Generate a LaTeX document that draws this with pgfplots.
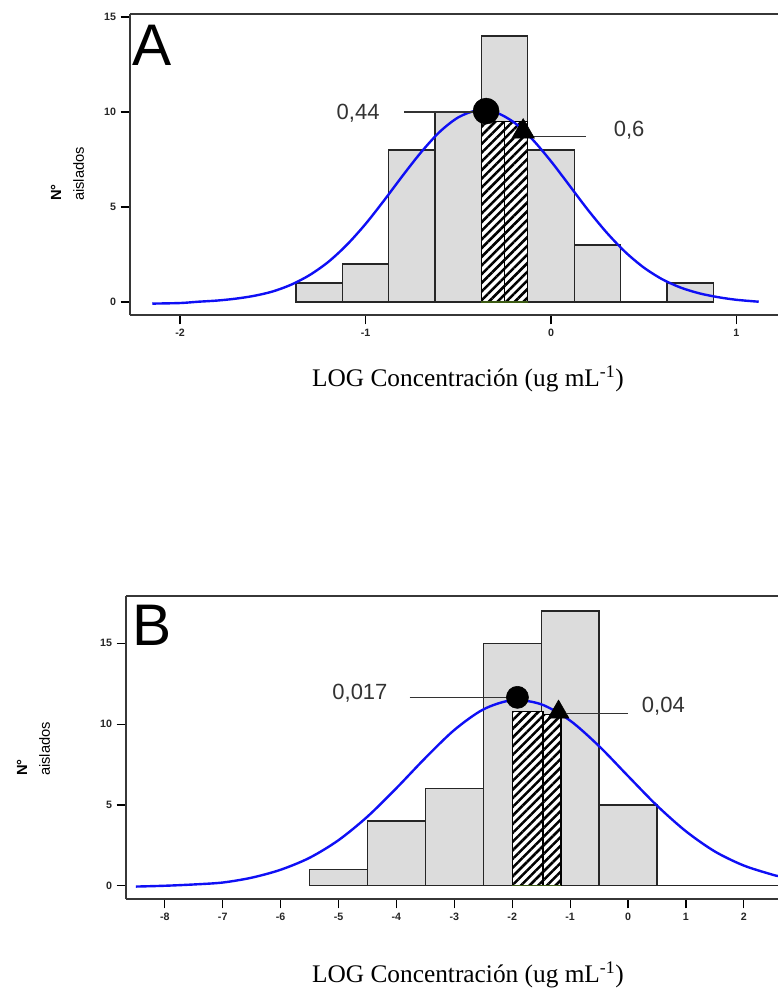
\documentclass[border=0pt]{standalone}
\usepackage{fontspec}
\setmainfont{Liberation Serif}
\setsansfont{Liberation Sans}
\usepackage{pgfplots}
\pgfplotsset{compat=1.18}
\usetikzlibrary{patterns.meta}

\definecolor{barfill}{RGB}{220,220,220}
\definecolor{curveblue}{RGB}{15,15,245}
\definecolor{axisgray}{RGB}{55,55,55}
\definecolor{basegreen}{RGB}{60,90,20}

\pgfplotsset{
  histo/.style={
    scale only axis, anchor=north west,
    axis x line*=box, axis y line*=left,
    xtick pos=left, ytick pos=left,
    tick align=outside, major tick length=7pt,
    axis line style={axisgray, line width=1.5pt},
    tick style={black, line width=0.9pt},
    tick label style={font=\sffamily\bfseries\fontsize{8}{8}\selectfont, text=black!85},
    ytick={0,5,10,15}, yticklabels={0,5,10,15},
  },
  bars/.style={ybar interval, fill=barfill, draw=black!85, line width=1pt},
  hatch/.style={ybar interval, fill=white, draw=black, line width=1pt,
    postaction={pattern={Lines[angle=45,distance=4.6pt,line width=1.9pt]}}},
  fitcurve/.style={curveblue, line width=1.8pt, smooth, no marks},
  leader/.style={black!80, line width=1.1pt, no marks},
}
\newcommand{\annot}{\sffamily\fontsize{16.5}{16.5}\selectfont\color{black!80}}

\begin{document}
\begin{tikzpicture}
\useasboundingbox (0,0) rectangle (583.5pt,-742.5pt);

% ---------------- A ----------------
\begin{axis}[histo,
  at={(97.5pt,-10.5pt)}, width=486pt, height=225.75pt,
  xmin=-2.27, xmax=1.224, ymin=-0.68, ymax=15.16,
  xtick={-2,-1,0,1}, xticklabels={-2,-1,0,1},
]
\addplot[bars] coordinates {
  (-1.375,1) (-1.125,2) (-0.875,8) (-0.625,10) (-0.375,14)
  (-0.125,8) (0.125,3) (0.375,0) (0.625,1) (0.875,1)
};
\addplot[hatch] coordinates {(-0.375,9.5) (-0.25,9.5) (-0.125,9.5)};
\addplot[basegreen, line width=1pt, no marks] coordinates {(-0.375,0) (-0.125,0)};
\addplot[fitcurve] coordinates {
  (-2.15,-0.08) (-2.0,-0.05) (-1.9,0.02) (-1.8,0.08) (-1.7,0.18) (-1.6,0.33)
  (-1.5,0.56) (-1.4,0.92) (-1.3,1.43) (-1.2,2.12) (-1.1,3.02) (-1.0,4.11)
  (-0.9,5.35) (-0.8,6.65) (-0.7,7.89) (-0.6,8.96) (-0.5,9.72) (-0.4,10.08)
  (-0.3,9.99) (-0.2,9.46) (-0.1,8.56) (0.0,7.41) (0.1,6.13) (0.2,4.84)
  (0.3,3.66) (0.4,2.64) (0.5,1.82) (0.6,1.20) (0.7,0.76) (0.8,0.46)
  (0.9,0.26) (1.0,0.12) (1.12,0.02)
};
\addplot[leader] coordinates {(-0.79,10.0) (-0.35,10.0)};
\addplot[leader] coordinates {(-0.11,8.7) (0.19,8.7)};
\addplot[only marks, mark=*, mark size=9.75pt, black] coordinates {(-0.35,10.05)};
\addplot[only marks, mark=triangle*, mark size=9.75pt, black] coordinates {(-0.15,8.97)};
\node[font=\annot] at (axis cs:-1.04,9.93) {0,44};
\node[font=\annot] at (axis cs:0.421,9.05) {0,6};
\end{axis}

% ---------------- B ----------------
\begin{axis}[histo,
  at={(94.5pt,-447pt)}, width=489pt, height=227.25pt,
  xmin=-8.67, xmax=2.59, ymin=-0.82, ymax=17.93,
  xtick={-8,-7,-6,-5,-4,-3,-2,-1,0,1,2},
  xticklabels={-8,-7,-6,-5,-4,-3,-2,-1,0,1,2},
]
\addplot[bars] coordinates {
  (-5.5,1) (-4.5,4) (-3.5,6) (-2.5,15) (-1.5,17) (-0.5,5) (0.5,5)
};
\addplot[black!85, line width=1pt, no marks] coordinates {(0.5,0) (2.6,0)};
\addplot[hatch] coordinates {(-2.0,10.8) (-1.47,10.6) (-1.16,10.6)};
\addplot[basegreen, line width=1pt, no marks] coordinates {(-2.0,0) (-1.16,0)};
\addplot[fitcurve] coordinates {
  (-8.5,-0.05) (-8.0,0.0) (-7.5,0.08) (-7.0,0.2) (-6.5,0.5) (-6.0,0.99)
  (-5.5,1.73) (-5.0,2.82) (-4.5,4.28) (-4.0,6.04) (-3.5,7.91) (-3.0,9.64)
  (-2.5,10.91) (-2.0,11.48) (-1.5,11.23) (-1.0,10.22) (-0.5,8.64)
  (0.0,6.79) (0.5,4.96) (1.0,3.37) (1.5,2.12) (2.0,1.25) (2.5,0.68) (2.6,0.60)
};
\addplot[leader] coordinates {(-3.77,11.66) (-1.91,11.66)};
\addplot[leader] coordinates {(-1.06,10.67) (0.0,10.67)};
\addplot[only marks, mark=*, mark size=8.3pt, black] coordinates {(-1.91,11.66)};
\addplot[only marks, mark=triangle*, mark size=9pt, black] coordinates {(-1.2,10.75)};
\node[font=\annot] at (axis cs:-4.63,11.9) {0,017};
\node[font=\annot] at (axis cs:0.61,11.13) {0,04};
\end{axis}

% panel letters, axis titles
\node[anchor=north west, inner sep=0pt, font=\sffamily\fontsize{44}{44}\selectfont] at (99pt,-18.75pt) {A};
\node[anchor=north west, inner sep=0pt, font=\sffamily\fontsize{44}{44}\selectfont] at (99pt,-453.75pt) {B};
\node[rotate=90, align=left, inner sep=0pt, font=\sffamily\fontsize{11}{17}\selectfont] at (50.6pt,-130.5pt) {\textbf{N°}\\aislados};
\node[rotate=90, align=left, inner sep=0pt, font=\sffamily\fontsize{11}{17}\selectfont] at (25.1pt,-561.75pt) {\textbf{N°}\\aislados};
\node[font=\fontsize{19}{19}\selectfont] at (351pt,-284.25pt) {LOG Concentración (ug mL\textsuperscript{-1})};
\node[font=\fontsize{19}{19}\selectfont] at (351pt,-731.25pt) {LOG Concentración (ug mL\textsuperscript{-1})};
\end{tikzpicture}
\end{document}
